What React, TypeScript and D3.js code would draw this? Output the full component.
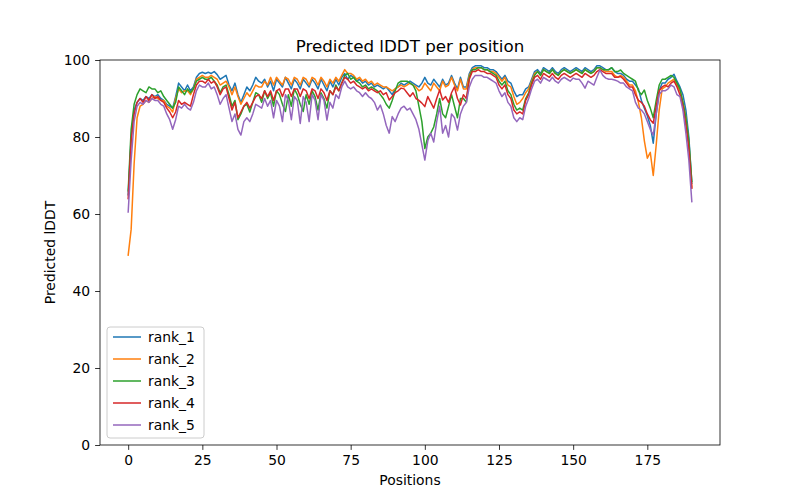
import React, { useRef, useEffect } from 'react';
import * as d3 from 'd3';

// predicted lDDT per residue, 191 positions (0..190)
const rank1 = [
  65, 80, 87, 89, 90, 89.5, 90.5, 90, 91, 90.5, 91, 90, 89.5, 88.5, 88, 87.5, 90.5, 94, 93, 92,
  93.5, 92, 93, 95.5, 96.5, 96.8, 96.5, 96.8, 96.5, 97, 96.2, 95, 95.5, 96, 93.5, 92, 94, 91, 89, 91,
  93, 92, 93.5, 95.5, 94.5, 94, 95, 93, 94.5, 92, 95, 94, 93, 95.5, 94, 92.5, 95, 94, 92.5, 95,
  94, 93, 95, 94, 92.5, 95, 93.5, 92, 94.5, 93, 95, 93.5, 95.5, 96.5, 95, 96, 95.5, 94.5, 95, 94,
  94.5, 93.5, 94, 93, 93.5, 93, 92.5, 93, 92, 91, 92.5, 93, 94, 93.5, 94, 94.5, 94, 93.5, 93, 94,
  95.5, 94, 93.5, 95, 94, 93, 95, 93.5, 94, 96, 94, 92.5, 95.5, 93, 93, 96.5, 98, 98.5, 98.5, 98.5,
  98, 98, 97.5, 97.5, 97, 96, 95, 96, 94.5, 94, 92, 90.5, 91, 91, 92.5, 93, 95, 97, 97.5, 96.5,
  98, 97.5, 97, 98, 97, 96.5, 97.5, 98, 97.5, 97, 97.5, 98, 97.5, 97, 98, 97.5, 97, 97.5, 98.5, 98.5,
  98, 97.5, 97.5, 98, 97, 96.5, 96.5, 96, 95, 94.5, 94.5, 93.5, 92.5, 89.5, 87.5, 85.5, 83, 78.4, 86, 92,
  94, 94, 95, 95.5, 96.3, 94.5, 93, 91, 87, 80, 68,
];

const rank2 = [
  49.3, 56, 73, 85, 88, 88.5, 89.5, 89, 90, 90.5, 90, 89.5, 89.5, 88, 87.5, 86.5, 90, 92.5, 91.5, 92,
  92, 91, 92.5, 95, 95.5, 96, 95.5, 95.5, 96, 95.5, 95, 93.5, 94, 94.5, 93, 91, 93, 90.5, 88.5, 90,
  91.5, 90.5, 92, 93.5, 93, 93, 94.5, 93.5, 95.5, 93.5, 95.5, 94.5, 93.5, 95.5, 95, 93.5, 95.5, 95, 93.5, 95.5,
  95, 93.5, 95.5, 95, 93.5, 95.5, 94.5, 93, 95, 94, 95.5, 94.5, 96, 97.5, 96.5, 96.5, 96, 95, 95.5, 94.5,
  95, 94, 94.5, 93.5, 94, 93.5, 93, 93, 92.5, 92, 92.5, 93, 93.5, 93, 93.5, 94, 93.5, 93, 92, 92.5,
  94, 93, 92, 94, 93, 92, 94.5, 93, 93.5, 95.5, 93.5, 92, 95, 92.5, 92.5, 96, 97.5, 98, 98, 98,
  97.5, 97.5, 97, 97, 96.5, 95.5, 94.5, 95.5, 93.5, 93, 90.5, 88.5, 89, 90, 91.5, 92.5, 94.5, 96.5, 97, 96,
  97.5, 97, 96.5, 97.5, 96.5, 96, 97, 97.5, 97, 96.5, 97, 97.5, 97, 96.5, 97.5, 97, 96.5, 97, 98, 98,
  97.5, 97, 97, 97, 96, 95.5, 96, 95.5, 94.5, 93.5, 93.5, 92, 89, 85, 79, 74.5, 76, 70, 78, 87,
  92.5, 93, 94, 94.5, 95, 93.5, 92, 89, 85, 78, 67,
];

const rank3 = [
  66, 82, 88.5, 91, 92.5, 92, 91.5, 93, 92.5, 92.5, 91.5, 92, 90.5, 89.5, 88.5, 87.5, 89, 93, 92, 91,
  92.5, 91.5, 92.5, 94.5, 95, 95.5, 95, 95, 95.5, 94.5, 93.5, 91.5, 93, 93.5, 91, 88, 89.5, 84.5, 86, 88,
  88.5, 86.5, 89, 91.5, 91, 89, 92, 90, 91.5, 88, 92, 91, 88.5, 86.6, 91, 88, 92.5, 91, 88.5, 86.6,
  91, 88.5, 92, 90.5, 87, 91.5, 90, 87.5, 92, 91, 93.5, 92, 94, 96, 96.5, 95, 95.5, 94.5, 94, 93,
  93.5, 92.5, 93, 92.5, 92, 91, 90, 88.5, 87.5, 89.5, 92, 94, 94.5, 94.5, 94.5, 94, 93.5, 92, 88, 84,
  77, 80, 81, 82.6, 86, 90, 86, 85, 88, 91, 88, 85, 90, 90, 89, 95.5, 97.5, 97.5, 98, 98,
  97.5, 97.5, 97, 96.5, 96, 94.5, 93.5, 94.5, 92, 91, 88.5, 87, 87.5, 87, 90, 91.5, 94, 96, 97, 96,
  97.5, 97, 96.5, 97.5, 96.5, 96, 97, 97.5, 97, 96.5, 97, 97.5, 97, 96.5, 97.5, 97, 96.5, 97, 98, 98,
  97.5, 97.5, 97.5, 98, 97, 97, 97.4, 96.5, 96, 95.5, 95, 94.5, 92, 91, 92.2, 89.5, 87.5, 85, 89.5, 93.5,
  95, 95, 95.5, 96, 95.5, 94, 92.5, 89, 85, 79, 68.5,
];

const rank4 = [
  64, 79, 86, 89, 90, 89, 90.5, 89.5, 91, 90, 90.5, 89.5, 89, 87.5, 86.5, 85, 86.5, 89.5, 88.5, 89,
  88.5, 88, 91, 93.5, 94.5, 94.5, 94, 95, 94, 94.5, 93, 91, 92.5, 93, 90, 87, 89, 85, 86.5, 88,
  89, 87.5, 89, 90.5, 91, 90, 92, 90.5, 92, 89.5, 92, 92.5, 90.5, 92.5, 92.5, 90.5, 92.5, 92.5, 90.5, 92.5,
  92, 90, 92.5, 92, 90, 92.5, 91.5, 89.5, 92, 91, 93, 92, 94, 95.5, 95, 94, 94.5, 93.5, 93, 92.5,
  93, 92, 92.5, 92, 91.5, 92, 91, 91.5, 89.6, 90.5, 91.5, 92, 92.7, 92.5, 91.5, 90.5, 91.5, 90, 89.5, 88.8,
  87.9, 90.5, 89, 87.5, 90, 92.2, 89.6, 90.5, 89, 91.5, 93, 90, 88.3, 91, 90, 95, 97, 97, 97.5, 97,
  97, 96.5, 96.5, 96, 95.5, 93.5, 92.5, 93.5, 91, 90, 87, 86, 86.5, 86, 89.5, 91, 93.5, 95.5, 96, 95,
  96.5, 96, 95.5, 96.5, 95.5, 95, 96, 96.5, 96, 95.5, 96, 96.5, 96, 95.5, 96.5, 96, 95.5, 96, 97, 97.5,
  97, 96.5, 96.5, 96.5, 95.5, 95.5, 95.7, 95, 94, 93, 93, 91, 89.5, 89, 88, 86, 84.5, 83.6, 88, 92,
  93, 93.5, 93, 94, 94.5, 93, 91, 88, 83, 77, 66.7,
];

const rank5 = [
  60.5, 74, 84, 88, 89, 88.5, 89.5, 89, 90, 89.5, 89.5, 88.5, 88, 86, 84.5, 82, 84.5, 88, 87.5, 88.5,
  87.5, 87, 89, 92, 93.5, 93, 93, 94, 92.5, 93, 91, 88.5, 90, 91, 87.5, 84, 86, 82, 80.5, 84,
  85, 84, 86, 88.5, 88, 87.5, 90, 88, 89.5, 85, 89.5, 88, 84, 91, 89.5, 84.5, 90.5, 89.5, 83.5, 90.5,
  89, 84, 91, 89.5, 84.5, 91, 89.5, 84.4, 89, 87.5, 91, 90, 93, 94.5, 93, 92.5, 93, 92, 91.5, 90.5,
  91.5, 90.5, 90, 89, 87, 88.3, 86, 83, 81, 85.3, 84, 86, 87.5, 88, 87, 87.5, 86, 84.5, 82, 78,
  74, 79, 81, 78.7, 84, 88, 81, 83, 80, 86, 85, 81.8, 86, 88, 89, 93, 95, 96, 96, 96,
  95.5, 95.5, 95, 94.5, 94, 92, 90.5, 91.5, 89, 88, 85, 84, 85, 84.5, 88, 90, 92.5, 94.5, 95, 94,
  95.5, 95, 94.5, 95.5, 94.5, 94, 95, 95.5, 95, 94.5, 95.3, 95, 95, 94, 92.7, 94.5, 94, 93.5, 95.5, 97.4,
  96, 95.3, 95, 95, 94.8, 94.5, 94, 94, 93, 92.5, 92, 89, 87.5, 87, 86, 84, 82, 80.5, 86, 91,
  92, 92, 92.5, 93.5, 93, 91, 90.5, 87, 81, 74, 63.2,
];

const seriesNames = ['rank_1', 'rank_2', 'rank_3', 'rank_4', 'rank_5'];
const seriesColors = ['#1f77b4', '#ff7f0e', '#2ca02c', '#d62728', '#9467bd'];
const xTicks = [0, 25, 50, 75, 100, 125, 150, 175];
const yTicks = [0, 20, 40, 60, 80, 100];

const App: React.FC = () => {
  const svgRef = useRef<SVGSVGElement | null>(null);

  useEffect(() => {
    const allSeries = [rank1, rank2, rank3, rank4, rank5];
    const font = 'DejaVu Sans, sans-serif';
    const fs = '13.9px';

    const svg = d3.select(svgRef.current);
    svg.selectAll('*').remove();

    svg.append('rect').attr('width', 800).attr('height', 500).attr('fill', '#fff');

    const x = d3.scaleLinear().domain([-9.5, 199.5]).range([100, 720]);
    const y = d3.scaleLinear().domain([0, 100]).range([445, 60]);

    const line = d3
      .line<number>()
      .x((_, i) => x(i))
      .y(d => y(d));

    allSeries.forEach((s, k) => {
      svg
        .append('path')
        .datum(s)
        .attr('fill', 'none')
        .attr('stroke', seriesColors[k])
        .attr('stroke-width', 1.5)
        .attr('stroke-linejoin', 'round')
        .attr('stroke-linecap', 'square')
        .attr('d', line);
    });

    const xAxis = svg
      .append('g')
      .attr('transform', 'translate(0,445)')
      .call(d3.axisBottom(x).tickValues(xTicks).tickSize(4.9).tickPadding(4.9));
    const yAxis = svg
      .append('g')
      .attr('transform', 'translate(100,0)')
      .call(d3.axisLeft(y).tickValues(yTicks).tickSize(4.9).tickPadding(4.9));

    [xAxis, yAxis].forEach(g => {
      g.select('.domain').remove();
      g.selectAll('line').attr('stroke', '#000').attr('stroke-width', 0.8);
      g.selectAll('text').attr('fill', '#000').style('font-family', font).style('font-size', fs);
    });

    svg
      .append('rect')
      .attr('x', 100)
      .attr('y', 60)
      .attr('width', 620)
      .attr('height', 385)
      .attr('fill', 'none')
      .attr('stroke', '#000')
      .attr('stroke-width', 0.8);

    svg
      .append('text')
      .attr('x', 410)
      .attr('y', 52)
      .attr('text-anchor', 'middle')
      .style('font-family', font)
      .style('font-size', '16.7px')
      .text('Predicted lDDT per position');

    svg
      .append('text')
      .attr('x', 410)
      .attr('y', 485)
      .attr('text-anchor', 'middle')
      .style('font-family', font)
      .style('font-size', fs)
      .text('Positions');

    svg
      .append('text')
      .attr('transform', 'translate(55,252.5) rotate(-90)')
      .attr('text-anchor', 'middle')
      .style('font-family', font)
      .style('font-size', fs)
      .text('Predicted lDDT');

    // legend, lower left
    const legend = svg.append('g').attr('transform', 'translate(107,327)');
    legend
      .append('rect')
      .attr('width', 97)
      .attr('height', 111)
      .attr('rx', 3)
      .attr('fill', '#fff')
      .attr('fill-opacity', 0.8)
      .attr('stroke', '#cccccc')
      .attr('stroke-width', 1);

    seriesNames.forEach((name, k) => {
      const cy = 10 + k * 22;
      legend
        .append('line')
        .attr('x1', 6)
        .attr('x2', 34)
        .attr('y1', cy)
        .attr('y2', cy)
        .attr('stroke', seriesColors[k])
        .attr('stroke-width', 1.5);
      legend
        .append('text')
        .attr('x', 41)
        .attr('y', cy)
        .attr('dy', '0.35em')
        .style('font-family', font)
        .style('font-size', fs)
        .text(name);
    });
  }, []);

  return (
    <svg
      ref={svgRef}
      width={800}
      height={500}
      style={{ position: 'absolute', left: 0, top: 0 }}
    ></svg>
  );
};

export default App;
